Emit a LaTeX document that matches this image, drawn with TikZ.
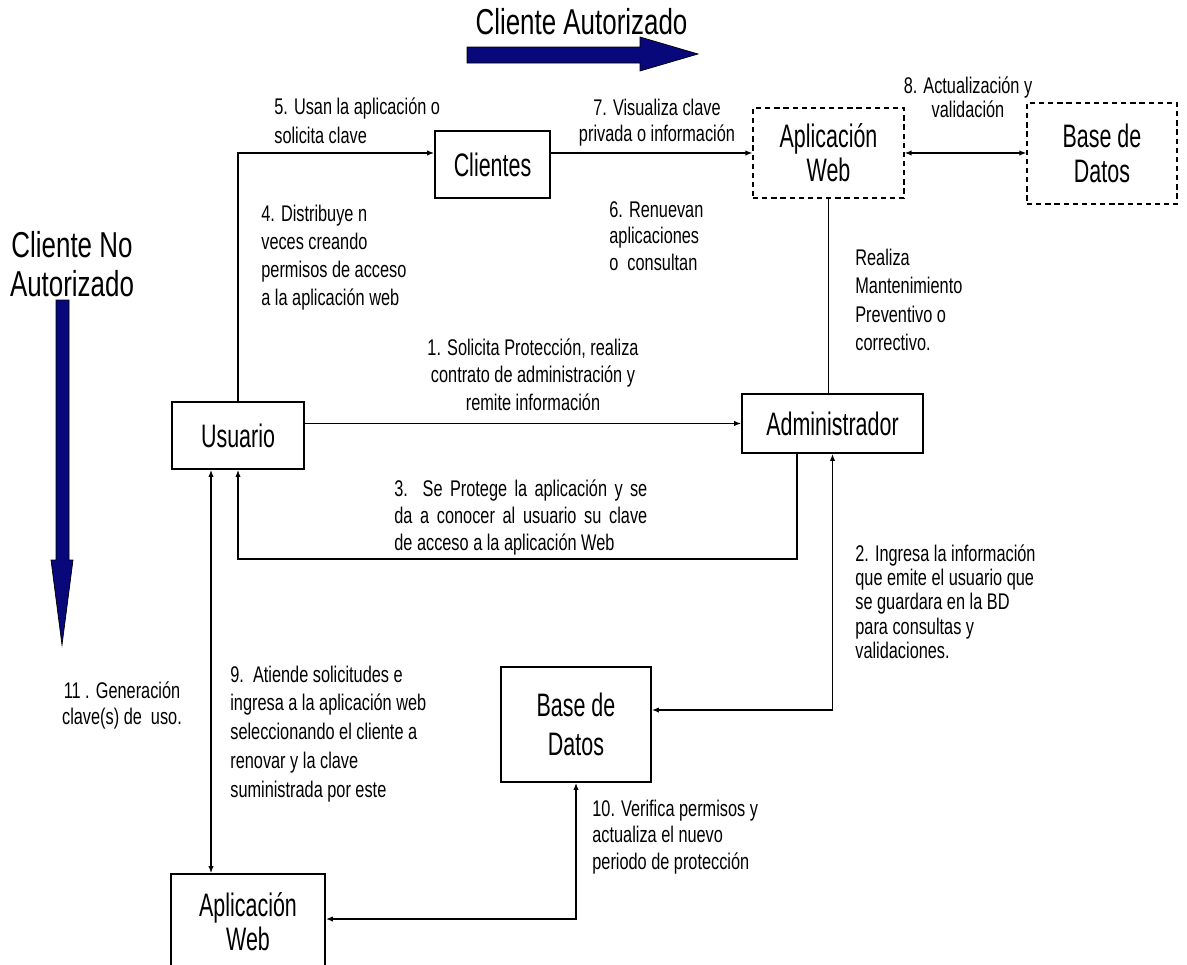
\documentclass[tikz,border=0pt]{standalone}
\usepackage{fontspec}
\setmainfont[FakeStretch=0.72]{Liberation Sans}
\newfontfamily\boxfont[FakeStretch=0.66]{Liberation Sans}
\usetikzlibrary{arrows.meta,calc}
\definecolor{navyfill}{RGB}{8,8,122}

% multi-line label: #1 line spacing, #2 width, #3 alignment, #4 text
\newcommand\lbl[4]{\parbox[t]{#2}{#3\fontsize{12.9}{#1}\selectfont #4}}

\begin{document}
\begin{tikzpicture}[x=0.02cm,y=-0.02cm,
  box/.style={draw, line width=0.9pt, inner sep=0pt, align=center,
    font=\boxfont\fontsize{18.5}{19.5}\selectfont},
  dbox/.style={box, dash pattern=on 3pt off 2.2pt, line width=0.6pt},
  link/.style={line width=1.1pt},
  arr/.style={link, -{Latex[length=4pt,width=3pt]}},
  arr2/.style={link, {Latex[length=4pt,width=3pt]}-{Latex[length=4pt,width=3pt]}},
  lab/.style={inner sep=0pt},
  bigarrow/.style={fill=navyfill, draw=black, line width=0.4pt}]

\path[use as bounding box] (0,0) rectangle (1187,964);
\clip (0,0) rectangle (1187,964);

% direction arrows
\draw[bigarrow] (467,47) -- (640,47) -- (640,37) -- (698,54) -- (640,71)
  -- (640,63) -- (467,63) -- cycle;
\draw[bigarrow] (56,300) -- (69,300) -- (69,560) -- (73,560) -- (62,645)
  -- (51,560) -- (56,560) -- cycle;

\node[lab, anchor=base, font=\fontsize{20.5}{24}\selectfont] (title) at (581.5,34) {Cliente Autorizado};
\node[lab, anchor=base] (side) at (72,257)
  {\parbox[t]{3cm}{\centering\fontsize{20.5}{22.7}\selectfont Cliente No\\Autorizado}};

% boxes
\node[box, minimum width=2.3cm, minimum height=1.34cm] (clientes) at (492.5,164.5) {Clientes};
\node[dbox, minimum width=3.02cm, minimum height=1.8cm] (appweb) at (828.5,153) {Aplicación\\Web};
\node[dbox, minimum width=3.0cm, minimum height=2.02cm] (bdtop) at (1102,153.5) {Base de\\Datos};
\node[box, minimum width=2.64cm, minimum height=1.34cm] (usuario) at (238,435.5) {Usuario};
\node[box, minimum width=3.62cm, minimum height=1.18cm] (admin) at (832.5,423.5) {Administrador};
\node[box, minimum width=3.0cm, minimum height=2.3cm,
  font=\boxfont\fontsize{18.5}{22.5}\selectfont] (bdbot) at (576,724.5) {Base de\\Datos};
\node[box, minimum width=3.08cm, minimum height=1.92cm] (appbot) at (248,922) {Aplicación\\Web};

% connectors
\coordinate (c2) at (0,710);
\coordinate (c3) at (797,559);
\coordinate (c9) at (211,0);
\coordinate (c10) at (0,919);
\draw[arr] (admin.west -| usuario.east) -- (admin.west);
\draw[arr] (usuario.north) |- (clientes.west |- appweb.west);
\draw[arr] (clientes.east |- appweb.west) -- (appweb.west);
\draw[arr2] (appweb.east) -- (bdtop.west |- appweb.east);
\draw[link] (appweb.south) -- (appweb.south |- admin.north);
\draw[arr] (admin.south -| c3) -- (c3) -| (usuario.south);
\draw[arr2] (admin.south) |- (bdbot.east |- c2);
\draw[arr2] (bdbot.south) |- (appbot.east |- c10);
\draw[arr2] (usuario.south -| c9) -- (appbot.north -| c9);

% labels
\node[lab, anchor=base west] (t5) at (274,114)
  {\lbl{17pt}{6cm}{\raggedright}{5. Usan la aplicación o\\solicita clave}};
\node[lab, anchor=base] (t7) at (657,115)
  {\lbl{15.3pt}{6cm}{\centering}{7. Visualiza clave\\privada o información}};
\node[lab, anchor=base] (t8) at (968,93)
  {\lbl{14.2pt}{6cm}{\centering}{8. Actualización y\\validación}};
\node[lab, anchor=base west] (t4) at (261,221)
  {\lbl{16pt}{6cm}{\raggedright}{4. Distribuye n\\veces creando\\permisos de acceso\\a la aplicación web}};
\node[lab, anchor=base west] (t6) at (609,217)
  {\lbl{15.1pt}{6cm}{\raggedright}{6. Renuevan\\aplicaciones\\o\ \ consultan}};
\node[lab, anchor=base west] (tm) at (855,265)
  {\lbl{16.3pt}{6cm}{\raggedright}{Realiza\\Mantenimiento\\Preventivo o\\correctivo.}};
\node[lab, anchor=base] (t1) at (533,355)
  {\lbl{15.9pt}{7cm}{\centering}{1. Solicita Protección, realiza\\contrato de administración y\\remite información}};
\node[lab, anchor=base west] (t3) at (394,496)
  {\lbl{15.6pt}{6cm}{\raggedright}{\makebox[5.06cm][s]{3.\ \ Se Protege la aplicación y se}\\\makebox[5.06cm][s]{da a conocer al usuario su clave}\\de acceso a la aplicación Web}};
\node[lab, anchor=base west] (t2) at (855,561)
  {\lbl{13.9pt}{6cm}{\raggedright}{2. Ingresa la información\\que emite el usuario que\\se guardara en la BD\\para consultas y\\validaciones.}};
\node[lab, anchor=base west] (t9) at (230,682)
  {\lbl{16.4pt}{6cm}{\raggedright}{9.\ \ Atiende solicitudes e\\ingresa a la aplicación web\\seleccionando el cliente a\\renovar y la clave\\suministrada por este}};
\node[lab, anchor=base west] (t10) at (592,816)
  {\lbl{15.3pt}{6cm}{\raggedright}{10. Verifica permisos y\\actualiza el nuevo\\periodo de protección}};
\node[lab, anchor=base] (t11) at (122,698)
  {\lbl{15.3pt}{4cm}{\centering}{11 . Generación\\clave(s) de\ \ uso.}};
\end{tikzpicture}
\end{document}
